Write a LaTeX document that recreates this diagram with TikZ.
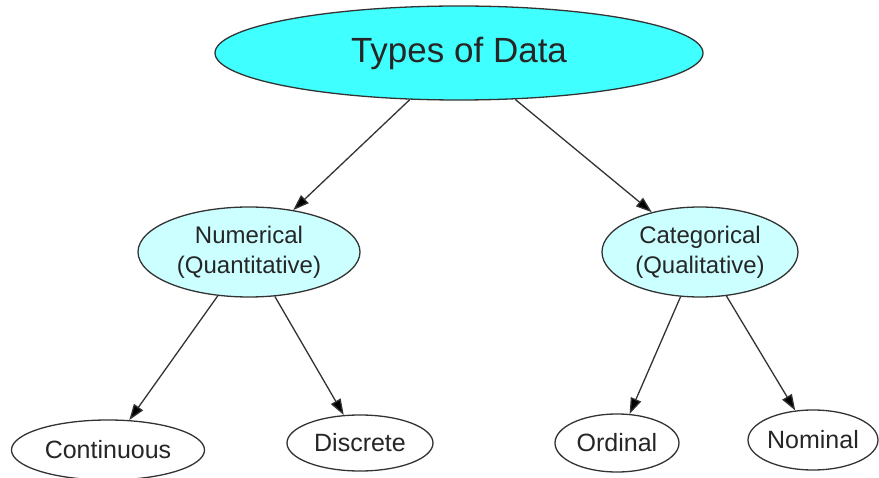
\documentclass[tikz,border=0pt]{standalone}
\usepackage{fontspec}
\setmainfont{Liberation Sans}
\usetikzlibrary{shapes.geometric,arrows.meta}
\definecolor{topcyan}{HTML}{40FFFF}
\definecolor{midcyan}{HTML}{CCFFFF}
\begin{document}
\begin{tikzpicture}[x=1pt,y=-1pt,
  base/.style={ellipse,draw=black!80,line width=1.3pt,inner sep=0pt,align=center,text=black!85},
  topnode/.style={base,fill=topcyan,font=\fontsize{35}{40}\selectfont},
  midnode/.style={base,fill=midcyan,font=\fontsize{24}{30}\selectfont},
  leafnode/.style={base,fill=white,font=\fontsize{25}{28}\selectfont},
  arr/.style={-{Triangle[length=16pt,width=11pt,fill=black]},line width=1.3pt,draw=black!80}]
\fill[white] (0,0) rectangle (879,478);
\useasboundingbox (0,0) rectangle (879,478);
\node[topnode,minimum width=488pt,minimum height=94pt] (top) at (459,53) {Types of Data};
\node[midnode,minimum width=222pt,minimum height=90pt] (num) at (249,252) {Numerical\\(Quantitative)};
\node[midnode,minimum width=196pt,minimum height=90pt] (cat) at (700,252) {Categorical\\(Qualitative)};
\node[leafnode,minimum width=193pt,minimum height=60pt] (cont) at (108,450) {Continuous};
\node[leafnode,minimum width=146pt,minimum height=56pt] (disc) at (360,443) {Discrete};
\node[leafnode,minimum width=124pt,minimum height=58pt] (ord) at (617,443) {Ordinal};
\node[leafnode,minimum width=130pt,minimum height=60pt] (nom) at (813,440) {Nominal};
\draw[arr] (top) -- (num);
\draw[arr] (top) -- (cat);
\draw[arr] (num) -- (cont);
\draw[arr] (num) -- (disc);
\draw[arr] (cat) -- (ord);
\draw[arr] (cat) -- (nom);
\end{tikzpicture}
\end{document}
